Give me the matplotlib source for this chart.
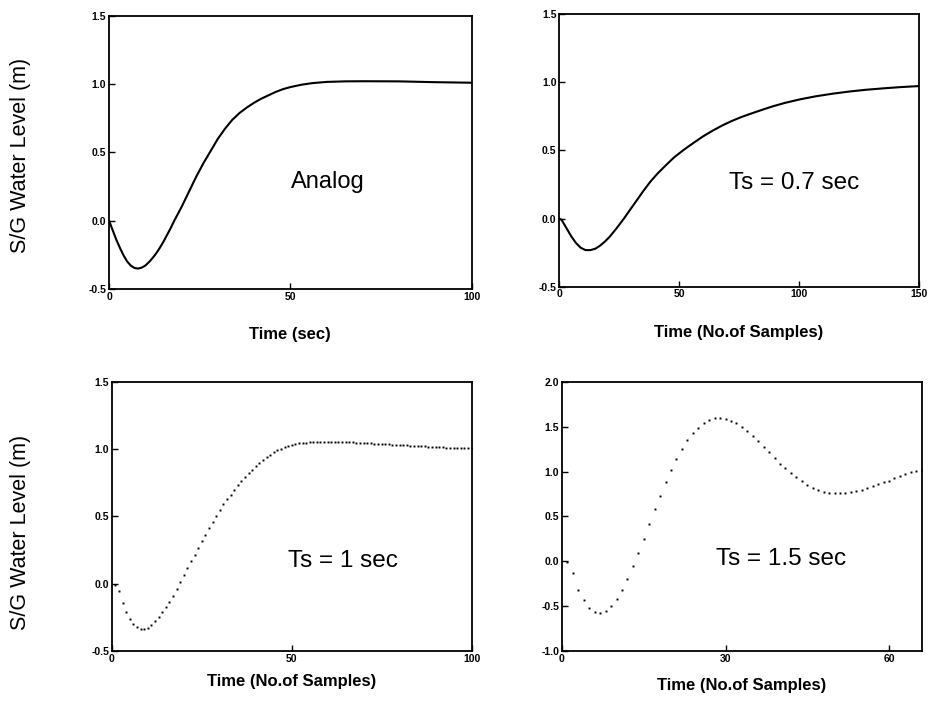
import matplotlib
matplotlib.use('Agg')
import matplotlib.pyplot as plt

plt.rcParams['font.family'] = ['Liberation Sans', 'DejaVu Sans']

# ---- data ----
# analog response (continuous)
t_analog = [0, 1, 2, 3, 4, 5, 6, 7, 8, 9, 10, 11, 12, 13, 14, 15, 16, 17, 18,
            20, 22, 24, 26, 28, 30, 32, 34, 36, 38, 40, 42, 44, 46, 48, 50,
            53, 56, 60, 65, 70, 80, 90, 100]
y_analog = [0.0, -0.07, -0.14, -0.2, -0.255, -0.3, -0.33, -0.347, -0.352, -0.345,
            -0.33, -0.305, -0.275, -0.24, -0.2, -0.155, -0.105, -0.055, 0.0,
            0.1, 0.21, 0.32, 0.42, 0.51, 0.6, 0.675, 0.74, 0.79, 0.83, 0.865,
            0.895, 0.92, 0.945, 0.965, 0.98, 0.997, 1.009, 1.018, 1.022, 1.023,
            1.022, 1.016, 1.012]

# Ts = 0.7 sec (drawn as a line)
n_07 = [0, 1, 3, 5, 7, 9, 11, 13, 15, 17, 19, 21, 24, 27, 31, 35, 38, 41, 45,
        48, 52, 56, 60, 64, 68, 72, 76, 80, 85, 89, 94, 100, 107, 114, 121, 128,
        135, 142, 150]
y_07 = [0.0, -0.01, -0.07, -0.13, -0.18, -0.215, -0.232, -0.232, -0.222, -0.2,
        -0.17, -0.135, -0.07, 0.0, 0.10, 0.20, 0.27, 0.33, 0.40, 0.45, 0.505,
        0.555, 0.603, 0.645, 0.683, 0.716, 0.745, 0.77, 0.8, 0.823, 0.848,
        0.873, 0.897, 0.916, 0.932, 0.945, 0.955, 0.964, 0.972]

# Ts = 1 sec (one dot per sample, samples 1..100)
y_10 = [-0.01, -0.054, -0.141, -0.208, -0.26, -0.30, -0.325, -0.338, -0.34, -0.33,
        -0.31, -0.28, -0.248, -0.21, -0.176, -0.136, -0.089, -0.042, 0.01, 0.062,
        0.114, 0.171, 0.215, 0.267, 0.317, 0.364, 0.413, 0.46, 0.505, 0.55,
        0.589, 0.626, 0.663, 0.70, 0.733, 0.765, 0.794, 0.824, 0.849, 0.876,
        0.90, 0.923, 0.942, 0.96, 0.977, 0.992, 1.004, 1.016, 1.024, 1.031,
        1.039, 1.044, 1.046, 1.049, 1.051, 1.052, 1.053, 1.053, 1.054, 1.054,
        1.054, 1.054, 1.053, 1.053, 1.052, 1.051, 1.050, 1.049, 1.047, 1.046,
        1.044, 1.043, 1.042, 1.040, 1.039, 1.037, 1.036, 1.034, 1.033, 1.031,
        1.030, 1.028, 1.027, 1.025, 1.024, 1.022, 1.021, 1.019, 1.018, 1.016,
        1.015, 1.013, 1.012, 1.011, 1.010, 1.009, 1.008, 1.007, 1.007, 1.007]
n_10 = list(range(1, len(y_10) + 1))

# Ts = 1.5 sec (one dot per sample, samples 1..66)
y_15 = [-0.01, -0.134, -0.316, -0.435, -0.52, -0.565, -0.576, -0.554, -0.50, -0.42,
        -0.32, -0.194, -0.052, 0.096, 0.252, 0.416, 0.58, 0.73, 0.88, 1.014,
        1.14, 1.25, 1.35, 1.43, 1.49, 1.54, 1.58, 1.60, 1.60, 1.59,
        1.57, 1.54, 1.50, 1.45, 1.40, 1.34, 1.28, 1.215, 1.155, 1.09,
        1.037, 0.986, 0.938, 0.89, 0.854, 0.82, 0.795, 0.776, 0.765, 0.758,
        0.758, 0.765, 0.773, 0.784, 0.795, 0.817, 0.836, 0.858, 0.884, 0.90,
        0.925, 0.947, 0.973, 0.995, 1.008, 1.02]
n_15 = list(range(1, len(y_15) + 1))

fig = plt.figure(figsize=(9.32, 7.06), dpi=100)

ax_tl = fig.add_axes([0.117, 0.591, 0.389, 0.386])
ax_tr = fig.add_axes([0.600, 0.594, 0.386, 0.386])
ax_bl = fig.add_axes([0.120, 0.078, 0.386, 0.381])
ax_br = fig.add_axes([0.603, 0.078, 0.386, 0.381])


def style(ax, xlim, xticks, ylim, yticks):
    ax.set_xlim(*xlim)
    ax.set_ylim(*ylim)
    ax.set_xticks(xticks)
    ax.set_yticks(yticks)
    ax.set_xticklabels([str(v) for v in xticks])
    ax.set_yticklabels(['{:.1f}'.format(v) for v in yticks])
    ax.tick_params(direction='in', length=4, width=1, labelsize=7.5, pad=2)
    for lab in ax.get_xticklabels() + ax.get_yticklabels():
        lab.set_fontweight('bold')
    for sp in ax.spines.values():
        sp.set_linewidth(1.3)


def xlabel(ax, text, off):
    ax.text(0.5, off, text, transform=ax.transAxes, ha='center', va='center',
            fontsize=12, fontweight='bold')


# top left: analog
ax_tl.plot(t_analog, y_analog, color='black', lw=1.5)
style(ax_tl, (0, 100), [0, 50, 100], (-0.5, 1.5), [-0.5, 0.0, 0.5, 1.0, 1.5])
ax_tl.text(60.4, 0.28, 'Analog', fontsize=17, ha='center', va='center')
xlabel(ax_tl, 'Time (sec)', -0.168)

# top right: Ts = 0.7 sec
ax_tr.plot(n_07, y_07, color='black', lw=1.5)
style(ax_tr, (0, 150), [0, 50, 100, 150], (-0.5, 1.5), [-0.5, 0.0, 0.5, 1.0, 1.5])
ax_tr.text(97.8, 0.26, 'Ts = 0.7 sec', fontsize=17.5, ha='center', va='center')
xlabel(ax_tr, 'Time (No.of Samples)', -0.168)

# bottom left: Ts = 1 sec
ax_bl.plot(n_10, y_10, linestyle='none', marker='s', markersize=1.4,
           color='black', markeredgewidth=0)
style(ax_bl, (0, 100), [0, 50, 100], (-0.5, 1.5), [-0.5, 0.0, 0.5, 1.0, 1.5])
ax_bl.text(64.2, 0.17, 'Ts = 1 sec', fontsize=17.5, ha='center', va='center')
xlabel(ax_bl, 'Time (No.of Samples)', -0.112)

# bottom right: Ts = 1.5 sec
ax_br.plot(n_15, y_15, linestyle='none', marker='s', markersize=1.4,
           color='black', markeredgewidth=0)
style(ax_br, (0, 66), [0, 30, 60], (-1.0, 2.0), [-1.0, -0.5, 0.0, 0.5, 1.0, 1.5, 2.0])
ax_br.text(40.1, 0.02, 'Ts = 1.5 sec', fontsize=17.5, ha='center', va='center')
xlabel(ax_br, 'Time (No.of Samples)', -0.13)

# shared y labels on the left
fig.text(21 / 932, 1 - 155 / 706, 'S/G Water Level (m)', rotation=90,
         ha='center', va='center', fontsize=15.5)
fig.text(21 / 932, 1 - 532 / 706, 'S/G Water Level (m)', rotation=90,
         ha='center', va='center', fontsize=15.5)

fig.savefig('out.png', dpi=100, facecolor='white')
